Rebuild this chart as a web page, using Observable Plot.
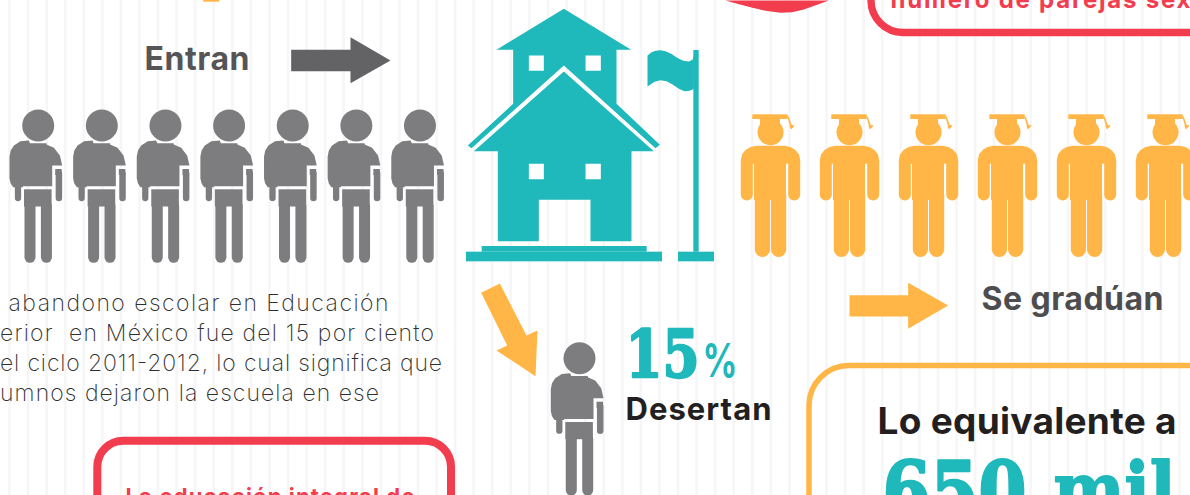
<!DOCTYPE html>
<html><head><meta charset="utf-8">
<style>html,body{margin:0;padding:0;background:#fff;overflow:hidden}svg{display:block}</style>
<script src="https://cdn.jsdelivr.net/npm/d3@7"></script>
<script src="https://cdn.jsdelivr.net/npm/@observablehq/plot@0.6"></script>
</head><body><div id="chart"></div>
<script>
// Pictogram counts
const entering = [0,1,2,3,4,5,6];
const graduating = [0,1,2,3,4,5];
const dropoutShare = "15";

// Colours
const teal="#1fb8bb", orange="#ffb646", red="#f23d4f", grey="#7d7d7f", darkArrow="#636264";

// Outlines (3x crop units)
const upperHouse=[[310,25],[512,148],[468,148],[468,310],[598,433],[585,443],[310,195],[33,443],[22,435],[158,310],[158,148],[108,148]];
const upperHoles=[[[205,165],[205,211],[250,211],[250,165]],[[375,165],[375,211],[421,211],[421,165]]];
const lowerHouse=[[310,213],[580,452],[513,452],[513,722],[390,722],[390,598],[235,598],[235,722],[112,722],[112,452],[40,452]];
const lowerHoles=[[[205,490],[205,536],[250,536],[250,490]],[[375,490],[375,536],[421,536],[421,490]]];
const flagCloth=[[561,165],[572,156],[585,151],[600,149],[615,152],[632,160],[650,172],[668,181],[685,183],[696,178],[700,165],[700,265],[688,271],[672,272],[655,265],[635,251],[618,242],[600,239],[582,244],[561,258]];
const houseBlocks=[[65,560,738,755],[18,606,755,784],[654,762,755,784],[700,716,150,755]];
const arrowIn=[[482,148],[660,148],[660,110],[780,180],[660,248],[660,212],[482,212]];
const arrowOut=[[147,44],[323,44],[323,7],[443,75],[323,145],[323,108],[147,108]];
const arrowDown=[[32,52],[88,24],[168,180],[201,165],[195,302],[78,225],[110,210]];
const topBlob=[[75,0],[110,10],[150,20],[195,31],[240,37],[275,35],[310,27],[350,13],[385,0]];
const torso=[[-9.3,140],[-17.7,140.7],[-24.3,145],[-27.5,150],[-28.7,156],[-28.7,178],[-27.5,183],[-25,186.7],[-15.3,186.7],[-15.3,185.7],[14,185.7],[14,165],[24,165],[21.7,155],[15.7,147.3],[8.3,144],[8.3,142.8],[-8.3,142.8]];
const shoulders=[[-29.7,163.3],[-29.7,160],[-28.5,154],[-25,149.5],[-20,146.5],[-14,145.3],[14,145.3],[20,146.5],[25,149.5],[28.5,154],[29.7,160],[29.7,163.3]];
const hatTassel=[[16.7,116],[18.2,116],[21.2,124.5],[24.3,125],[20.5,129],[18.8,125.5],[19.4,125]];

// Text
const labels=[
 {text:"Entran",x:144,y:69.5,size:32,weight:700,fill:"#555557",anchor:"start",width:105},
 {text:"Se gradúan",x:981,y:309.5,size:32,weight:700,fill:"#4d4d4f",anchor:"start",width:182},
 {text:"Desertan",x:625,y:419,size:31,weight:700,fill:"#231f20",anchor:"start",width:146},
 {text:dropoutShare,x:625,y:376,size:65,weight:700,fill:teal,anchor:"start",width:74,family:"DejaVu Serif",squeeze:true,thick:2.4},
 {text:"%",x:702,y:376,size:46,weight:700,fill:teal,anchor:"start",width:35,squeeze:true},
 {text:"Lo equivalente a",x:877,y:433.5,size:37,weight:700,fill:"#231f20",anchor:"start",width:299},
 {text:"650",x:882,y:520,size:82,weight:700,fill:teal,anchor:"start",width:144,family:"DejaVu Serif",squeeze:true,thick:2.6},
 {text:"mil",x:1053,y:515,size:74,weight:700,fill:teal,anchor:"start",width:122,family:"DejaVu Serif",squeeze:true,thick:2},
 {text:"abandono escolar en Educación",x:388,y:310,size:23,weight:200,fill:"#2f2f30",anchor:"end",width:380},
 {text:"erior  en México fue del 15 por ciento",x:433.5,y:340,size:23,weight:200,fill:"#2f2f30",anchor:"end",width:434},
 {text:"el ciclo 2011-2012, lo cual significa que",x:441.5,y:370,size:23,weight:200,fill:"#2f2f30",anchor:"end",width:442},
 {text:"umnos dejaron la escuela en ese",x:378.5,y:400,size:23,weight:200,fill:"#2f2f30",anchor:"end",width:379},
 {text:"La educación integral de",x:125,y:503,size:22,weight:700,fill:red,anchor:"start",width:289},
 {text:"número de parejas sexuales",x:890,y:7,size:24,weight:700,fill:red,anchor:"start",width:372}
];

// Helpers that place crop-unit outlines in page units
const crop=(pts,ox,oy)=>pts.map(([a,b])=>({x:ox+a/3,y:oy+b/3}));
const withId=(pts,id)=>pts.map(p=>({...p,id}));
const keyhole=(outer,holes)=>{const s=outer[0];return outer.concat([s],...holes.map(h=>[...h,h[0],s]));};
const fillShape=(pts,fill)=>Plot.line(pts,{x:"x",y:"y",z:"id",fill,stroke:"none"});
const limb=(pts,stroke,strokeWidth)=>Plot.line(pts,{x:"x",y:"y",z:"id",stroke,strokeWidth,strokeLinecap:"round"});
const boxes=(rows,fill)=>Plot.rect(rows,{x1:"x1",x2:"x2",y1:"y1",y2:"y2",fill});
const frame=(b,stroke,strokeWidth)=>Plot.rect([b],{x1:"x1",x2:"x2",y1:"y1",y2:"y2",fill:"none",stroke,strokeWidth,rx:b.r,ry:b.r});

// Grey people: centre x, vertical shift
const greyPeople=[...entering.map(i=>({id:i,cx:37.7+63.63*i,dy:0})),{id:7,cx:579,dy:232.7}];
const gTorso=greyPeople.flatMap(p=>torso.map(([a,b])=>({x:p.cx+a,y:b+p.dy,id:p.id})));
const gHeads=greyPeople.map(p=>({x:p.cx,y:125+p.dy}));
const gSmallArm=greyPeople.flatMap(p=>[{x:p.cx-20.2,y:186+p.dy,id:p.id},{x:p.cx-20.2,y:197.5+p.dy,id:p.id}]);
const gLongArm=greyPeople.flatMap(p=>[{x:p.cx+20.7,y:173+p.dy,id:p.id},{x:p.cx+20.7,y:197.5+p.dy,id:p.id}]);
const gArmTop=greyPeople.map(p=>({x1:p.cx+17.5,x2:p.cx+24,y1:169+p.dy,y2:175+p.dy}));
const gHips=greyPeople.map(p=>({x1:p.cx-13.7,x2:p.cx+13.9,y1:189.3+p.dy,y2:206.5+p.dy}));
const gLegs=greyPeople.flatMap(p=>[-8.2,8.2].flatMap((d,j)=>[{x:p.cx+d,y:206+p.dy,id:p.id*2+j},{x:p.cx+d,y:256.8+p.dy,id:p.id*2+j}]));

// Graduates
const gradX=graduating.map(i=>770+79*i);
const oShoulders=gradX.flatMap((cx,i)=>shoulders.map(([a,b])=>({x:cx+a,y:b,id:i})));
const oTassel=gradX.flatMap((cx,i)=>hatTassel.map(([a,b])=>({x:cx+a,y:b,id:i})));
const oHeads=gradX.map(cx=>({x:cx,y:131.7}));
const oHat=gradX.flatMap(cx=>[{x1:cx-17.7,x2:cx+17.7,y1:114.3,y2:119},{x1:cx-10,x2:cx+10,y1:119,y2:128}]);
const oTorso=gradX.map(cx=>({x1:cx-16,x2:cx+16,y1:163,y2:200}));
const oArms=gradX.flatMap((cx,i)=>[-23.7,23.7].flatMap((d,j)=>[{x:cx+d,y:163,id:i*2+j},{x:cx+d,y:194,id:i*2+j}]));
const oLegs=gradX.flatMap((cx,i)=>[-8.1,8.1].flatMap((d,j)=>[{x:cx+d,y:195,id:i*2+j},{x:cx+d,y:249,id:i*2+j}]));

const stripes=d3.range(9,1190,18.57);

const textMarks=labels.map(t=>Plot.text([t],{x:"x",y:"y",text:"text",lineAnchor:"bottom",textAnchor:t.anchor,fontSize:t.size,fontWeight:t.weight,fontFamily:t.family||"Inter",fill:t.fill,stroke:t.thick?t.fill:"none",strokeWidth:t.thick||0}));

const chart=Plot.plot({
 width:1190,height:495,margin:0,
 x:{domain:[0,1190],range:[0,1190],axis:null},
 y:{domain:[0,495],range:[0,495],axis:null},
 style:{background:"#fff"},
 marks:[
  Plot.ruleX(stripes,{stroke:"#f6f6f7",strokeWidth:2.6}),
  // Frames and clipped fragments
  frame({x1:97.3,x2:451,y1:440.7,y2:620,r:26},red,8),
  frame({x1:871,x2:1300,y1:-60,y2:32.5,r:32},red,7.3),
  frame({x1:809,x2:1300,y1:365.5,y2:620,r:40},orange,5.5),
  fillShape(withId(crop(topBlob,700,0),"blob"),red),
  boxes([{x1:203.3,x2:219.3,y1:0,y2:1.7}],orange),
  // Arrows
  fillShape(withId(crop(arrowIn,130,0),"in"),darkArrow),
  fillShape(withId(crop(arrowOut,800,280),"out"),orange),
  fillShape(withId(crop(arrowDown,470,275),"down"),orange),
  // School
  fillShape(withId(crop(keyhole(upperHouse,upperHoles),460,0),"up"),teal),
  fillShape(withId(crop(keyhole(lowerHouse,lowerHoles),460,0),"low"),teal),
  fillShape(withId(crop(flagCloth,460,0),"flag"),teal),
  boxes(houseBlocks.map(([a,b,c,d])=>({x1:460+a/3,x2:460+b/3,y1:c/3,y2:d/3})),teal),
  // Grey people
  Plot.dot(gHeads,{x:"x",y:"y",r:16,fill:grey}),
  fillShape(gTorso,grey),
  limb(gSmallArm,grey,6.3),
  limb(gLongArm,grey,6.5),
  boxes(gArmTop,grey),
  boxes(gHips,grey),
  limb(gLegs,grey,11),
  // Graduates
  Plot.dot(oHeads,{x:"x",y:"y",r:13,fill:orange}),
  boxes(oHat,orange),
  fillShape(oTassel,orange),
  fillShape(oShoulders,orange),
  boxes(oTorso,orange),
  limb(oArms,orange,12),
  limb(oLegs,orange,15.2),
  ...textMarks
 ]
});
d3.select(chart).selectAll("text").each(function(_,i){
  const t=labels[i]; if(!t||!t.width) return;
  const s=d3.select(this).attr("textLength",t.width);
  if(t.squeeze) s.attr("lengthAdjust","spacingAndGlyphs");
});
document.getElementById("chart").append(chart);
</script></body></html>
